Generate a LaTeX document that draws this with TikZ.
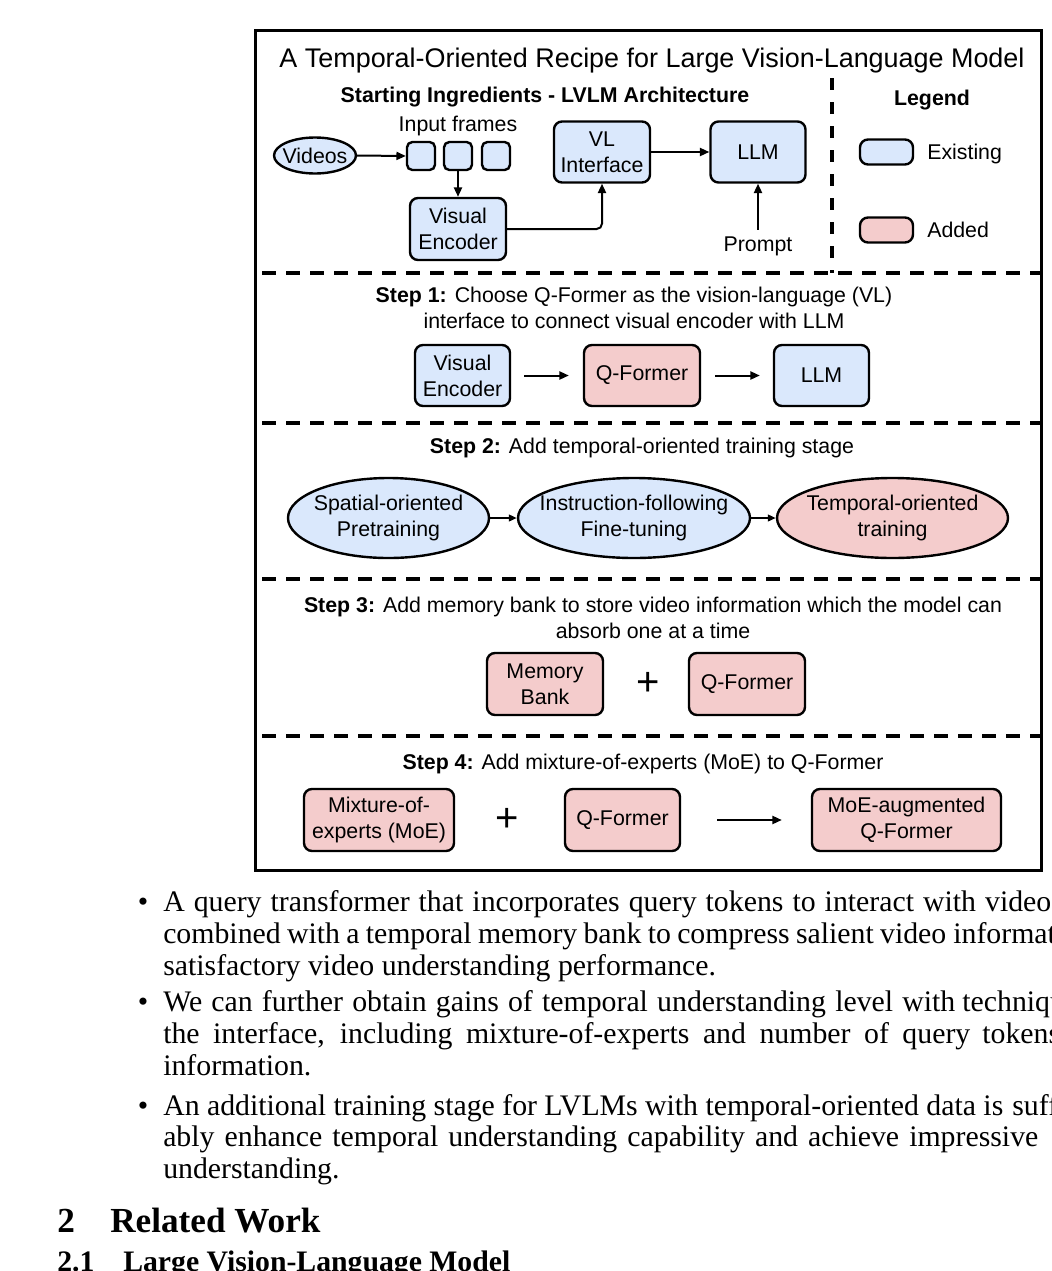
\documentclass[tikz,border=0pt]{standalone}
\usepackage{fontspec}
\setmainfont{Liberation Serif}
\newfontfamily\arialf{Liberation Sans}
\usetikzlibrary{arrows.meta,shapes.geometric}
\definecolor{exblue}{RGB}{218,232,252}
\definecolor{adred}{RGB}{244,204,204}
\newcommand{\dfont}{\arialf\fontsize{16}{19.5}\selectfont}
\newcommand{\bodyf}{\fontsize{22.35}{23.8}\selectfont}
\begin{document}
\begin{tikzpicture}[x=0.75pt,y=-0.75pt,
  box/.style={draw=black, line width=1.8pt, rounded corners=6pt, align=center, inner sep=0pt, font=\dfont},
  bluebox/.style={box, fill=exblue},
  redbox/.style={box, fill=adred},
  ell/.style={ellipse, draw=black, line width=1.8pt, inner sep=0pt},
  lbl/.style={font=\dfont, inner sep=0pt, align=center},
  dn/.style={yshift=-1.5pt},
  plus/.style={font=\arialf\fontsize{30}{30}\selectfont, inner sep=0pt},
  arr/.style={line width=1.5pt, -{Triangle[length=7pt,width=6pt]}},
  sarr/.style={line width=1.5pt, -{Triangle[length=6pt,width=5pt]}},
  sep/.style={line width=3pt, dash pattern=on 10.5pt off 7.5pt},
  body/.style={font=\bodyf, inner sep=0pt, anchor=base west},
]
\useasboundingbox (0,0) rectangle (1051,1271);
\clip (0,0) rectangle (1051,1271);
\fill[white] (0,0) rectangle (1051,1271);

% frame
\draw[line width=2.25pt] (255,30) rectangle (1041,870);
\node[lbl, font=\arialf\fontsize{20.2}{24}\selectfont, yshift=-2.25pt] (title) at (652,58) {A Temporal-Oriented Recipe for Large Vision-Language Model};

% ---- starting ingredients
\node[lbl, dn, font=\dfont\bfseries] (start) at (545,95) {Starting Ingredients - LVLM Architecture};
\node[lbl, dn, font=\dfont\bfseries] (legend) at (932,98) {Legend};
\draw[line width=2.6pt, dash pattern=on 9pt off 9pt] (832,78) -- (832,273);

\node[ell, fill=exblue, minimum width=61.5pt, minimum height=27pt] (videos) at (315,155.5) {};
\node[lbl] (videost) at (videos) {Videos};
\node[lbl, dn] (inframes) at (458,124) {Input frames};
\node[bluebox, rounded corners=4pt, minimum size=21pt] (f1) at (421,156) {};
\node[bluebox, rounded corners=4pt, minimum size=21pt] (f2) at (458,156) {};
\node[bluebox, rounded corners=4pt, minimum size=21pt] (f3) at (496,156) {};
\node[bluebox, minimum width=72pt, minimum height=46.5pt] (ve1) at (458,229) {Visual\\Encoder};
\node[bluebox, minimum width=72pt, minimum height=45.75pt] (vl) at (602,152) {VL\\Interface};
\node[bluebox, minimum width=71.25pt, minimum height=45.75pt] (llm1) at (758,152) {LLM};
\node[lbl, dn] (prompt) at (758,244) {Prompt};

\draw[arr] (videos.east) -- (f1.west);
\draw[arr] (f2.south) -- (ve1.north);
\draw[arr, rounded corners=4pt] (ve1.east) -| (vl.south);
\draw[arr] (vl.east) -- (llm1.west);
\draw[arr, shorten <=5pt] (prompt.north) -- (llm1.south);

\node[bluebox, minimum width=39.75pt, minimum height=18.75pt] (lgex) at (886.5,152) {};
\node[lbl, dn, anchor=west] (lgext) at (927,152) {Existing};
\node[redbox, minimum width=39.75pt, minimum height=18.75pt] (lgad) at (886.5,230) {};
\node[lbl, anchor=west] (lgadt) at (927,230) {Added};

\draw[sep] (262,273) -- (1041,273);

% ---- step 1
\node[lbl] (s1) at (634,308) {\textbf{Step 1:} Choose Q-Former as the vision-language (VL)\\interface to connect visual encoder with LLM};
\node[bluebox, minimum width=71.25pt, minimum height=45.75pt] (ve2) at (462.5,375.5) {Visual\\Encoder};
\node[redbox, minimum width=87pt, minimum height=45.75pt] (qf1) at (642,375.5) {Q-Former};
\node[bluebox, minimum width=71.25pt, minimum height=45.75pt] (llm2) at (821.5,375.5) {LLM};
\draw[arr, shorten <=9.75pt, shorten >=10.5pt] (ve2.east) -- (qf1.west);
\draw[arr, shorten <=10.5pt, shorten >=9.75pt] (qf1.east) -- (llm2.west);

\draw[sep] (262,423) -- (1041,423);

% ---- step 2
\node[lbl, dn] (s2) at (642,446) {\textbf{Step 2:} Add temporal-oriented training stage};
\node[ell, fill=exblue, minimum width=150.75pt, minimum height=60pt] (e1) at (388.5,518) {};
\node[lbl] (e1t) at (e1) {Spatial-oriented\\Pretraining};
\node[ell, fill=exblue, minimum width=174pt, minimum height=60pt] (e2) at (634,518) {};
\node[lbl] (e2t) at (e2) {Instruction-following\\Fine-tuning};
\node[ell, fill=adred, minimum width=173.25pt, minimum height=60pt] (e3) at (892.5,518) {};
\node[lbl] (e3t) at (e3) {Temporal-oriented\\training};
\draw[sarr] (e1.east) -- (e2.west);
\draw[sarr] (e2.east) -- (e3.west);

\draw[sep] (262,579) -- (1041,579);

% ---- step 3
\node[lbl] (s3) at (653,618) {\textbf{Step 3:} Add memory bank to store video information which the model can\\absorb one at a time};
\node[redbox, minimum width=87pt, minimum height=46.5pt] (mb) at (545,684) {Memory\\Bank};
\node[plus] (p1) at (648,684) {+};
\node[redbox, minimum width=87pt, minimum height=46.5pt] (qf2) at (747,684) {Q-Former};

\draw[sep] (262,736) -- (1041,736);

% ---- step 4
\node[lbl, dn] (s4) at (643,762) {\textbf{Step 4:} Add mixture-of-experts (MoE) to Q-Former};
\node[redbox, minimum width=112.5pt, minimum height=46.5pt] (moe) at (379,820) {Mixture-of-\\experts (MoE)};
\node[plus] (p2) at (507,820) {+};
\node[redbox, minimum width=86.25pt, minimum height=46.5pt] (qf3) at (622.5,820) {Q-Former};
\node[redbox, minimum width=141.75pt, minimum height=46.5pt] (aug) at (906.5,820) {MoE-augmented\\Q-Former};
\draw[arr, shorten <=27pt, shorten >=21.75pt] (qf3.east) -- (aug.west);

% ---- body text
\node[body, anchor=base] (b1) at (143,911.7) {\textbullet};
\node[body] (t11) at (163,911.7) {\makebox[666pt][s]{A query transformer that incorporates query tokens to interact with video}};
\node[body] (t12) at (163,943.4) {\makebox[587.25pt][s]{combined with a temporal memory bank to compress salient video}\hspace{5.25pt}information};
\node[body] (t13) at (163,975.1) {satisfactory video understanding performance.};
\node[body, anchor=base] (b2) at (143,1011.7) {\textbullet};
\node[body] (t21) at (163,1011.7) {\makebox[594pt][s]{We can further obtain gains of temporal understanding level with}\hspace{5.25pt}techniques};
\node[body] (t22) at (163,1043.4) {\makebox[605.25pt][s]{the interface, including mixture-of-experts and number of query}\hspace{9pt}tokens};
\node[body] (t23) at (163,1075.1) {information.};
\node[body, anchor=base] (b3) at (143,1115) {\textbullet};
\node[body] (t31) at (163,1115) {\makebox[630pt][s]{An additional training stage for LVLMs with temporal-oriented data is}\hspace{6.75pt}sufficient};
\node[body] (t32) at (163,1146.7) {\makebox[656.25pt][s]{ably enhance temporal understanding capability and achieve impressive}};
\node[body] (t33) at (163,1178.4) {understanding.};

\node[body, font=\fontsize{26.4}{28}\selectfont\bfseries] (h2n) at (57,1232) {2};
\node[body, font=\fontsize{26.4}{28}\selectfont\bfseries] (h2) at (110,1232) {Related Work};
\node[body, font=\fontsize{22.3}{24}\selectfont\bfseries] (h21n) at (57,1271) {2.1};
\node[body, font=\fontsize{22.3}{24}\selectfont\bfseries] (h21) at (123,1271) {Large Vision-Language Model};
\end{tikzpicture}
\end{document}
